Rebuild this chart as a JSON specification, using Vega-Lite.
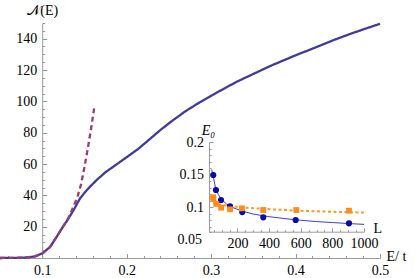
{
  "$schema": "https://vega.github.io/schema/vega-lite/v6.json",
  "width": 380,
  "height": 235,
  "autosize": {"type": "none"},
  "padding": {"left": 0, "top": 23, "right": 35, "bottom": 20},
  "config": {
    "view": {"stroke": null},
    "font": "Liberation Serif",
    "axis": {
      "domainColor": "#9a9a9a",
      "tickColor": "#9a9a9a",
      "grid": false,
      "labelFlush": false,
      "labelOverlap": false
    }
  },
  "datasets": {
    "main": [
      {"E": 0.05, "N": 0, "s": "a"},
      {"E": 0.0796, "N": 0.2, "s": "a"},
      {"E": 0.0914, "N": 1, "s": "a"},
      {"E": 0.1003, "N": 3, "s": "a"},
      {"E": 0.1092, "N": 7, "s": "a"},
      {"E": 0.1171, "N": 13.5, "s": "a"},
      {"E": 0.1234, "N": 19, "s": "a"},
      {"E": 0.1309, "N": 25, "s": "a"},
      {"E": 0.1376, "N": 31, "s": "a"},
      {"E": 0.1447, "N": 38, "s": "a"},
      {"E": 0.1507, "N": 42, "s": "a"},
      {"E": 0.1566, "N": 45.5, "s": "a"},
      {"E": 0.1649, "N": 50, "s": "a"},
      {"E": 0.1755, "N": 55, "s": "a"},
      {"E": 0.1874, "N": 59.5, "s": "a"},
      {"E": 0.2004, "N": 64.5, "s": "a"},
      {"E": 0.2134, "N": 69.5, "s": "a"},
      {"E": 0.2276, "N": 76, "s": "a"},
      {"E": 0.2395, "N": 81.5, "s": "a"},
      {"E": 0.2513, "N": 86.5, "s": "a"},
      {"E": 0.2691, "N": 93.5, "s": "a"},
      {"E": 0.2869, "N": 99.5, "s": "a"},
      {"E": 0.3082, "N": 106, "s": "a"},
      {"E": 0.3303, "N": 112.5, "s": "a"},
      {"E": 0.352, "N": 118, "s": "a"},
      {"E": 0.3698, "N": 122.5, "s": "a"},
      {"E": 0.3895, "N": 127, "s": "a"},
      {"E": 0.4053, "N": 130.5, "s": "a"},
      {"E": 0.4242, "N": 134.5, "s": "a"},
      {"E": 0.4447, "N": 139, "s": "a"},
      {"E": 0.4645, "N": 143, "s": "a"},
      {"E": 0.4834, "N": 146.5, "s": "a"},
      {"E": 0.5, "N": 149.5, "s": "a"},
      {"E": 0.05, "N": 0, "s": "b"},
      {"E": 0.0796, "N": 0.2, "s": "b"},
      {"E": 0.0914, "N": 1, "s": "b"},
      {"E": 0.1003, "N": 3, "s": "b"},
      {"E": 0.1092, "N": 7, "s": "b"},
      {"E": 0.1171, "N": 13.5, "s": "b"},
      {"E": 0.1234, "N": 19, "s": "b"},
      {"E": 0.1309, "N": 25.5, "s": "b"},
      {"E": 0.1376, "N": 33.5, "s": "b"},
      {"E": 0.142, "N": 39.5, "s": "b"},
      {"E": 0.146, "N": 47, "s": "b"},
      {"E": 0.15, "N": 58, "s": "b"},
      {"E": 0.154, "N": 70, "s": "b"},
      {"E": 0.158, "N": 83, "s": "b"},
      {"E": 0.1617, "N": 96.5, "s": "b"}
    ],
    "fitBlue": [
      {"L": 37, "E0": 0.158},
      {"L": 47, "E0": 0.147},
      {"L": 60, "E0": 0.131},
      {"L": 80, "E0": 0.119},
      {"L": 100, "E0": 0.112},
      {"L": 130, "E0": 0.105},
      {"L": 170, "E0": 0.0995},
      {"L": 230, "E0": 0.094},
      {"L": 300, "E0": 0.0895},
      {"L": 400, "E0": 0.0855},
      {"L": 500, "E0": 0.0825},
      {"L": 600, "E0": 0.08},
      {"L": 700, "E0": 0.078},
      {"L": 800, "E0": 0.0765},
      {"L": 900, "E0": 0.075},
      {"L": 1000, "E0": 0.0737}
    ],
    "fitOrange": [
      {"L": 47, "E0": 0.108},
      {"L": 70, "E0": 0.1055},
      {"L": 100, "E0": 0.1035},
      {"L": 160, "E0": 0.1015},
      {"L": 250, "E0": 0.0993},
      {"L": 400, "E0": 0.097},
      {"L": 600, "E0": 0.0945},
      {"L": 800, "E0": 0.093},
      {"L": 1000, "E0": 0.0918}
    ],
    "ptBlue": [
      {"L": 47, "E0": 0.1494},
      {"L": 64, "E0": 0.1264},
      {"L": 96, "E0": 0.1111},
      {"L": 153, "E0": 0.1013},
      {"L": 230, "E0": 0.0926},
      {"L": 363, "E0": 0.0845},
      {"L": 568, "E0": 0.0804},
      {"L": 905, "E0": 0.0753}
    ],
    "ptOrange": [
      {"L": 46, "E0": 0.1152},
      {"L": 48, "E0": 0.1126},
      {"L": 66, "E0": 0.105},
      {"L": 97, "E0": 0.0993},
      {"L": 153, "E0": 0.0968},
      {"L": 228, "E0": 0.0983},
      {"L": 363, "E0": 0.0957},
      {"L": 572, "E0": 0.0957},
      {"L": 905, "E0": 0.0947}
    ]
  },
  "layer": [
    {
      "data": {"name": "main"},
      "mark": {"type": "line", "strokeWidth": 2.3},
      "encoding": {
        "x": {
          "field": "E", "type": "quantitative",
          "scale": {"domain": [0.05, 0.5], "nice": false, "zero": false},
          "axis": {
            "orient": "bottom", "offset": 0,
            "labelFont": "Liberation Serif", "labelFontSize": 14, "labelColor": "#000000",
            "titleFont": "Liberation Serif", "titleFontSize": 14, "titleFontWeight": "normal", "titleColor": "#000000",
            "values": [0.06, 0.08, 0.1, 0.12, 0.14, 0.16, 0.18, 0.2, 0.22, 0.24, 0.26, 0.28, 0.3, 0.32, 0.34, 0.36, 0.38, 0.4, 0.42, 0.44, 0.46, 0.48, 0.5],
            "labelExpr": "abs(datum.value*10 - round(datum.value*10)) < 0.001 ? format(datum.value, '.1f') : ''",
            "tickSize": {"condition": {"test": "abs(datum.value*10 - round(datum.value*10)) < 0.001", "value": -4.5}, "value": -2.5},
            "labelPadding": 9.5,
            "title": "E/ t", "titleX": 386, "titleY": -2, "titleAlign": "left", "titleBaseline": "middle", "titleAngle": 0
          }
        },
        "y": {
          "field": "N", "type": "quantitative",
          "scale": {"domain": [0, 150], "nice": false, "zero": false},
          "axis": {
            "orient": "left", "offset": -42.2,
            "labelFont": "Liberation Serif", "labelFontSize": 14, "labelColor": "#000000",
            "titleFont": "Liberation Serif", "titleFontSize": 14, "titleFontWeight": "normal", "titleColor": "#000000",
            "values": [5, 10, 15, 20, 25, 30, 35, 40, 45, 50, 55, 60, 65, 70, 75, 80, 85, 90, 95, 100, 105, 110, 115, 120, 125, 130, 135, 140, 145, 150],
            "labelExpr": "datum.value % 20 == 0 ? datum.label : ''",
            "tickSize": {"condition": {"test": "datum.value % 20 == 0", "value": -4.5}, "value": -2.5},
            "labelPadding": 10,
            "title": "𝒩(E)", "titleX": 0, "titleY": -13, "titleAlign": "center", "titleBaseline": "middle", "titleAngle": 0
          }
        },
        "color": {"field": "s", "type": "nominal", "scale": {"domain": ["a", "b"], "range": ["#3d3d99", "#993d71"]}, "legend": null},
        "strokeDash": {"field": "s", "type": "nominal", "scale": {"domain": ["a", "b"], "range": [[1, 0], [5, 3.5]]}, "legend": null}
      }
    },
    {
      "encoding": {
        "x": {
          "field": "L", "type": "quantitative",
          "scale": {"domain": [20, 1000], "range": [209, 364], "nice": false, "zero": false},
          "axis": {
            "orient": "bottom", "offset": -26.3, "format": "d",
            "labelFont": "Liberation Serif", "labelFontSize": 14, "labelColor": "#000000",
            "titleFont": "Liberation Serif", "titleFontSize": 14, "titleFontWeight": "normal", "titleColor": "#000000",
            "values": [50, 100, 150, 200, 250, 300, 350, 400, 450, 500, 550, 600, 650, 700, 750, 800, 850, 900, 950, 1000],
            "labelExpr": "datum.value % 200 == 0 ? datum.label : ''",
            "tickSize": {"condition": {"test": "datum.value % 200 == 0", "value": -4}, "value": -2},
            "labelPadding": 8.5,
            "title": "L", "titleX": 373, "titleY": -3, "titleAlign": "left", "titleBaseline": "middle", "titleAngle": 0
          }
        },
        "y": {
          "field": "E0", "type": "quantitative",
          "scale": {"domain": [0.062, 0.2], "range": [209, 119], "nice": false, "zero": false},
          "axis": {
            "orient": "left", "offset": -209,
            "labelFont": "Liberation Serif", "labelFontSize": 14, "labelColor": "#000000",
            "titleFont": "Liberation Serif", "titleFontSize": 14, "titleFontWeight": "normal", "titleColor": "#000000",
            "values": [0.062, 0.07, 0.08, 0.09, 0.1, 0.11, 0.12, 0.13, 0.14, 0.15, 0.16, 0.17, 0.18, 0.19, 0.2],
            "labelExpr": "datum.value < 0.065 ? '0.05' : (abs(datum.value*20 - round(datum.value*20)) < 0.001 ? format(datum.value, '.2~f') : '')",
            "tickSize": {"condition": {"test": "abs(datum.value*20 - round(datum.value*20)) < 0.001", "value": -4}, "value": -2},
            "labelOffset": {"condition": {"test": "datum.value < 0.065", "value": 7}, "value": 0},
            "labelPadding": 9.5,
            "title": "E₀", "titleFontStyle": "italic", "titleX": -1, "titleY": 107, "titleAlign": "center", "titleBaseline": "middle", "titleAngle": 0
          }
        }
      },
      "layer": [
        {"data": {"name": "fitBlue"}, "mark": {"type": "line", "color": "#3c3cdc", "strokeWidth": 1}},
        {"data": {"name": "fitOrange"}, "mark": {"type": "line", "color": "#ff9a1a", "strokeWidth": 2, "strokeDash": [3, 2.5]}},
        {"data": {"name": "ptBlue"}, "mark": {"type": "point", "shape": "circle", "filled": true, "opacity": 1, "color": "#0a0aa8", "size": 38}},
        {"data": {"name": "ptOrange"}, "mark": {"type": "square", "opacity": 1, "color": "#ff8c1a", "size": 34}}
      ]
    }
  ],
  "resolve": {
    "scale": {"x": "independent", "y": "independent", "color": "independent", "strokeDash": "independent"},
    "axis": {"x": "independent", "y": "independent"}
  }
}
